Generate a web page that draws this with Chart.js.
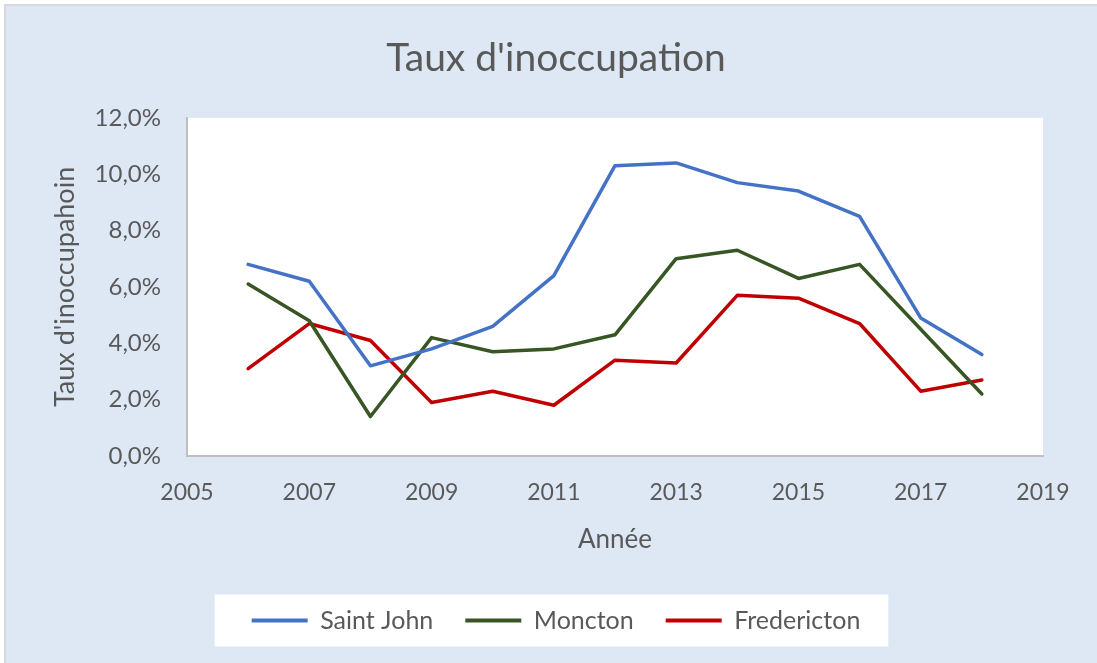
<!DOCTYPE html>
<html lang="fr">
<head>
<meta charset="utf-8">
<title>Taux d'inoccupation</title>
<script src="https://cdn.jsdelivr.net/npm/chart.js@4.4.1/dist/chart.umd.min.js"></script>
<style>
  html, body { margin: 0; padding: 0; background: #ffffff; overflow: hidden; }
  #frame {
    position: absolute; left: 4px; top: 4px;
    border-left: 2px solid #d9d9d9; border-top: 2px solid #d9d9d9;
    background: #dee8f5;
    width: 1100px; height: 660px;
  }
  #chart { display: block; }
</style>
</head>
<body>
<div id="frame"><canvas id="chart" width="1100" height="660"></canvas></div>
<script>
// Annual vacancy rates (%) for three New Brunswick cities
const years = [2006, 2007, 2008, 2009, 2010, 2011, 2012, 2013, 2014, 2015, 2016, 2017, 2018];
const saintJohn   = [6.8, 6.2, 3.2, 3.8, 4.6, 6.4, 10.3, 10.4, 9.7, 9.4, 8.5, 4.9, 3.6];
const moncton     = [6.1, 4.8, 1.4, 4.2, 3.7, 3.8, 4.3, 7.0, 7.3, 6.3, 6.8, 4.5, 2.2];
const fredericton = [3.1, 4.7, 4.1, 1.9, 2.3, 1.8, 3.4, 3.3, 5.7, 5.6, 4.7, 2.3, 2.7];

// Axis tick values
const xTicks = [2005, 2007, 2009, 2011, 2013, 2015, 2017, 2019];
const yTicks = [0, 2, 4, 6, 8, 10, 12];

const seriesNames  = ['Saint John', 'Moncton', 'Fredericton'];
const seriesValues = [saintJohn, moncton, fredericton];
const seriesColors = ['#4472c4', '#375623', '#c00000'];

const textColor = '#595959';
const fontFamily = 'Lato, "Open Sans", sans-serif';

const toPoints = vals => vals.map((v, i) => ({ x: years[i], y: v }));

// White plot area and white legend panel
const panels = {
  id: 'panels',
  beforeDraw(chart) {
    const { ctx, chartArea } = chart;
    ctx.save();
    ctx.fillStyle = '#ffffff';
    ctx.fillRect(chartArea.left, chartArea.top, chartArea.right - chartArea.left, chartArea.bottom - chartArea.top);
    const boxes = chart.legend && chart.legend.legendHitBoxes;
    if (boxes && boxes.length) {
      const l = Math.min(...boxes.map(b => b.left));
      const r = Math.max(...boxes.map(b => b.left + b.width));
      const cy = boxes[0].top + boxes[0].height / 2;
      ctx.fillRect(l - 37, cy - 26, (r - l) + 37 + 28, 52);
    }
    ctx.restore();
  }
};

new Chart(document.getElementById('chart'), {
  type: 'line',
  data: {
    datasets: seriesNames.map((name, i) => ({
      label: name,
      data: toPoints(seriesValues[i]),
      borderColor: seriesColors[i],
      backgroundColor: seriesColors[i],
      borderWidth: 3.5,
      borderJoinStyle: 'round',
      borderCapStyle: 'round',
      pointRadius: 0,
      pointHoverRadius: 0,
      tension: 0,
      fill: false
    }))
  },
  options: {
    responsive: false,
    animation: false,
    events: [],
    layout: { padding: { left: 0, right: 0, top: 0, bottom: 23 } },
    plugins: {
      title: {
        display: true,
        text: "Taux d'inoccupation",
        color: textColor,
        font: { family: fontFamily, size: 39, weight: 'normal' },
        padding: { top: 29, bottom: 36 }
      },
      legend: {
        display: true,
        position: 'bottom',
        labels: {
          color: textColor,
          font: { family: fontFamily, size: 25 },
          boxWidth: 56,
          boxHeight: 4,
          padding: 32,
          generateLabels(chart) {
            return chart.data.datasets.map((ds, i) => ({
              text: ds.label,
              fillStyle: ds.borderColor,
              strokeStyle: ds.borderColor,
              lineWidth: 0,
              fontColor: textColor,
              datasetIndex: i,
              hidden: false
            }));
          }
        }
      },
      tooltip: { enabled: false }
    },
    scales: {
      x: {
        type: 'linear',
        position: 'bottom',
        min: xTicks[0],
        max: xTicks[xTicks.length - 1],
        afterBuildTicks: s => { s.ticks = xTicks.map(v => ({ value: v })); },
        afterFit: s => { s.height = 120; },
        grid: { display: false, drawTicks: false },
        border: { display: true, color: '#bfbfbf', width: 2 },
        ticks: {
          color: textColor,
          font: { family: fontFamily, size: 23 },
          padding: 23,
          maxRotation: 0,
          autoSkip: false,
          callback: v => String(v)
        },
        title: {
          display: true,
          text: 'Année',
          color: textColor,
          font: { family: fontFamily, size: 26 },
          padding: { top: 0, bottom: 21 }
        }
      },
      y: {
        type: 'linear',
        position: 'left',
        min: yTicks[0],
        max: yTicks[yTicks.length - 1],
        afterBuildTicks: s => { s.ticks = yTicks.map(v => ({ value: v })); },
        afterFit: s => { s.width = 181; },
        grid: { display: false, drawTicks: false },
        border: { display: true, color: '#bfbfbf', width: 2 },
        ticks: {
          color: textColor,
          font: { family: fontFamily, size: 24 },
          padding: 26,
          callback: v => v.toFixed(1).replace('.', ',') + '%'
        },
        title: {
          display: true,
          text: "Taux d'inoccupahoin",
          color: textColor,
          font: { family: fontFamily, size: 27 },
          padding: { top: 43, bottom: 0 }
        }
      },
      yRight: {
        type: 'linear',
        position: 'right',
        min: 0,
        max: 12,
        afterFit: s => { s.width = 63; },
        grid: { display: false, drawTicks: false },
        border: { display: false },
        ticks: { display: false }
      }
    }
  },
  plugins: [panels]
});
</script>
</body>
</html>
